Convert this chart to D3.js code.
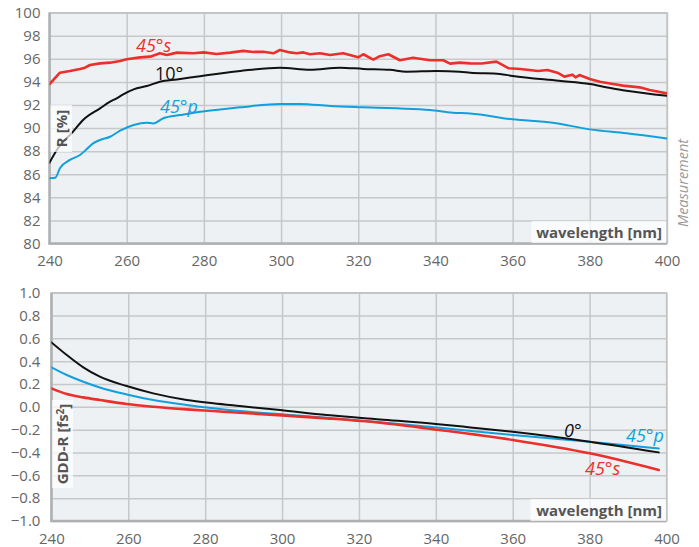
<!DOCTYPE html>
<html><head><meta charset="utf-8">
<script src="https://cdn.jsdelivr.net/npm/d3@7"></script>
<style>
html,body{margin:0;padding:0;background:#fff;}
svg{display:block;font-family:"Open Sans",sans-serif;}
</style></head>
<body>
<svg id="c" width="699" height="547"></svg>
<script>
// ---------- DATA ----------
const xTicks = [240,260,280,300,320,340,360,380,400];
const rTicks = [80,82,84,86,88,90,92,94,96,98,100];
const gddTicks = [-1.0,-0.8,-0.6,-0.4,-0.2,0.0,0.2,0.4,0.6,0.8,1.0];

// Reflectance, 45°s
const r45sWl = [240,241,242.7,245.3,247.9,249.2,250.5,253.1,255.7,258.3,260,263.5,266.1,268.6,270.4,273,277.3,279.9,283.3,286.8,290.2,292.8,295.4,298,299.7,302.3,304,305.8,307.5,310.1,312.7,316.1,320,321.3,323.9,325.6,327.8,330.8,334.2,338.6,342,343.8,346.3,349,352,355.8,359,362,366.6,369,371.6,373.4,375.5,376.3,377.3,380,382.6,386,388.6,392.9,395.5,400];
const r45sVal = [93.82,94.17,94.8,94.95,95.12,95.24,95.47,95.61,95.67,95.82,95.96,96.13,96.19,96.48,96.33,96.54,96.48,96.56,96.42,96.54,96.69,96.6,96.62,96.48,96.77,96.56,96.48,96.56,96.4,96.48,96.33,96.48,96.13,96.4,95.94,96.23,96.4,95.88,96.1,95.88,95.88,95.59,95.67,95.61,95.6,95.76,95.18,95.12,94.95,95.03,94.8,94.46,94.63,94.4,94.6,94.25,94.02,93.82,93.68,93.53,93.3,93.01];

// Reflectance, 10°
const r10Wl = [240,241.9,246.1,248.7,253.1,255.7,257.4,259.1,261.8,265.2,268.6,273,279,284.2,289.4,299.7,307.5,315.3,321.3,328.2,332.5,340.3,346.3,349,356.7,360,372,380,385,389.5,400];
const r10Val = [87.0,88.1,89.69,90.7,91.71,92.29,92.58,92.93,93.36,93.65,94.02,94.22,94.5,94.74,94.95,95.24,95.05,95.24,95.13,95.05,94.89,94.95,94.89,94.8,94.69,94.52,94.1,93.82,93.5,93.24,92.8];

// Reflectance, 45°p
const r45pWl = [240,241.5,242.7,245.3,247.9,249.6,251.3,253.1,255.7,258.3,261.8,265.2,266.9,269.5,273.9,279,284.2,289.4,299.7,305,312.7,321.3,330,338.6,344.5,349,360,370.4,380,389.5,400];
const r45pVal = [85.65,85.7,86.52,87.24,87.67,88.16,88.68,88.97,89.25,89.78,90.27,90.47,90.4,90.85,91.13,91.42,91.62,91.8,92.09,92.09,91.91,91.8,91.71,91.57,91.33,91.27,90.76,90.47,89.89,89.55,89.1];

// GDD on reflection (fs²)
const g0Wl = [240,244,248.3,252.6,259.6,266.5,275.2,282.1,289,299.5,311.6,325.5,340,349,360,380,398];
const g0Val = [0.565,0.454,0.346,0.264,0.182,0.118,0.06,0.031,0.007,-0.028,-0.072,-0.11,-0.15,-0.18,-0.218,-0.305,-0.399];
const g45pWl = [240,244,248.3,252.6,259.6,266.5,275.2,282.1,289,300,311.6,325.5,341,360,380,398];
const g45pVal = [0.346,0.279,0.22,0.17,0.109,0.06,0.016,-0.013,-0.037,-0.065,-0.095,-0.135,-0.183,-0.247,-0.305,-0.364];
const g45sWl = [240,244,248.3,252.6,259.6,266.5,275.2,282.1,289,300,311.6,325.5,341,360,380,398];
const g45sVal = [0.162,0.112,0.083,0.06,0.025,0.001,-0.022,-0.037,-0.052,-0.075,-0.101,-0.139,-0.203,-0.29,-0.407,-0.553];

// ---------- DRAW ----------
const svg = d3.select("#c");
const RED = "#ec2f2a", BLACK = "#111111", BLUE = "#12a0dd";
const GRID = "#c6c8ca", BG = "#eef1f4", TICK = "#666", LBL = "#555";

function panel(opt){
  const x = d3.scaleLinear().domain([240,400]).range(opt.xr);
  const y = d3.scaleLinear().domain(opt.yd).range(opt.yr);
  const g = svg.append("g");
  const [x0,x1] = opt.xr, [y0,y1] = [opt.yr[1], opt.yr[0]];
  g.append("rect").attr("x",x0).attr("y",y0).attr("width",x1-x0).attr("height",y1-y0).attr("fill",BG);
  g.append("g").attr("transform",`translate(0,${y1})`)
    .call(d3.axisBottom(x).tickValues(xTicks).tickSize(-(y1-y0)).tickFormat(""))
    .call(s=>{s.select(".domain").remove(); s.selectAll("line").attr("stroke",GRID).attr("stroke-width",1.5);});
  g.append("g").attr("transform",`translate(${x0},0)`)
    .call(d3.axisLeft(y).tickValues(opt.ticks).tickSize(-(x1-x0)).tickFormat(""))
    .call(s=>{s.select(".domain").remove(); s.selectAll("line").attr("stroke",GRID).attr("stroke-width",1.5);});
  g.append("rect").attr("x",x0).attr("y",y0).attr("width",x1-x0).attr("height",y1-y0)
    .attr("fill","none").attr("stroke","#c0c2c4").attr("stroke-width",1.2);
  g.append("line").attr("x1",x0).attr("x2",x0).attr("y1",y0).attr("y2",y1+1).attr("stroke","#aeb0b2").attr("stroke-width",2.5);
  g.append("line").attr("x1",x0-1).attr("x2",x1).attr("y1",y1).attr("y2",y1).attr("stroke","#aeb0b2").attr("stroke-width",2.5);
  g.append("g").attr("transform",`translate(0,${y1})`)
    .call(d3.axisBottom(x).tickValues(xTicks).tickSize(0).tickPadding(opt.xPad).tickFormat(d3.format("d")))
    .call(s=>{s.select(".domain").remove(); s.selectAll("text").attr("fill",TICK).style("font-size","15px").style("font-family","Open Sans");});
  g.append("g").attr("transform",`translate(${x0},0)`)
    .call(d3.axisLeft(y).tickValues(opt.ticks).tickSize(0).tickPadding(opt.yPad).tickFormat(opt.fmt))
    .call(s=>{s.select(".domain").remove(); s.selectAll("text").attr("fill",TICK).style("font-size","15px").style("font-family","Open Sans");});
  const cid = "clip"+opt.id;
  svg.append("clipPath").attr("id",cid).append("rect").attr("x",x0).attr("y",y0).attr("width",x1-x0).attr("height",y1-y0);
  const lines = g.append("g").attr("clip-path",`url(#${cid})`);
  opt.series.forEach(s=>{
    const pts = s.wl.map((w,i)=>[w,s.v[i]]);
    lines.append("path").datum(pts)
      .attr("fill","none").attr("stroke",s.c).attr("stroke-width",s.w)
      .attr("stroke-linejoin","round").attr("stroke-linecap","round")
      .attr("d", d3.line().x(d=>x(d[0])).y(d=>y(d[1])).curve(s.curve));
  });
  const yb = opt.yBox;
  g.append("rect").attr("x",yb[0]).attr("y",yb[1]).attr("width",yb[2]).attr("height",yb[3]).attr("fill","#fff").attr("opacity",0.72);
  const yt = g.append("text").attr("transform",`translate(${yb[0]+yb[2]/2+5.5},${yb[1]+yb[3]/2}) rotate(-90)`)
    .attr("text-anchor","middle").attr("fill",LBL).style("font-size","15px").style("font-weight","700");
  opt.yLabel(yt);
  const xb = opt.xBox;
  g.append("rect").attr("x",xb[0]).attr("y",xb[1]).attr("width",xb[2]).attr("height",xb[3]).attr("fill","#fff").attr("opacity",0.72);
  g.append("text").attr("x",xb[0]+xb[2]-4).attr("y",xb[1]+16.5).attr("text-anchor","end")
    .attr("fill",LBL).style("font-size","15px").style("font-weight","700").text("wavelength [nm]");
  opt.labels.forEach(l=>{
    g.append("text").attr("x",l.x).attr("y",l.y).attr("fill",l.c).style("font-size","18px")
      .style("font-style",l.it ? "italic" : "normal").text(l.t);
  });
  return {x,y};
}

panel({
  id:"top", xr:[49.5,667], yd:[80,100], yr:[243.5,12.7], ticks:rTicks, fmt:d3.format("d"),
  xPad:12, yPad:9,
  series:[
    {wl:r45pWl, v:r45pVal, c:BLUE, w:2, curve:d3.curveMonotoneX},
    {wl:r10Wl, v:r10Val, c:BLACK, w:2, curve:d3.curveMonotoneX},
    {wl:r45sWl, v:r45sVal, c:RED, w:2.6, curve:d3.curveLinear}
  ],
  yBox:[50.5,105,21.5,47],
  yLabel: t=>t.text("R [%]"),
  xBox:[531.5,221,134.5,22],
  labels:[
    {x:136,y:51.5,t:"45°s",c:RED,it:true},
    {x:155,y:80,t:"10°",c:BLACK,it:false},
    {x:160,y:112.5,t:"45°p",c:BLUE,it:true}
  ]
});

panel({
  id:"bot", xr:[51.4,666.5], yd:[-1,1], yr:[521,292.7], ticks:gddTicks, fmt:d3.format(".1f"),
  xPad:12, yPad:11,
  series:[
    {wl:g45pWl, v:g45pVal, c:BLUE, w:2, curve:d3.curveMonotoneX},
    {wl:g0Wl, v:g0Val, c:BLACK, w:2, curve:d3.curveMonotoneX},
    {wl:g45sWl, v:g45sVal, c:RED, w:2.6, curve:d3.curveMonotoneX}
  ],
  yBox:[52,400,21,88],
  yLabel: t=>{ t.append("tspan").text("GDD-R [fs"); t.append("tspan").attr("dy","-0.45em").style("font-size","10px").text("2"); t.append("tspan").attr("dy","0.45em").text("]"); },
  xBox:[530.5,499,135.5,22],
  labels:[
    {x:564,y:437,t:"0°",c:BLACK,it:true},
    {x:626,y:441.5,t:"45°p",c:BLUE,it:true},
    {x:585,y:475,t:"45°s",c:RED,it:true}
  ]
});

svg.append("text").attr("transform","translate(688,227) rotate(-90)")
  .attr("fill","#9a9a9a").style("font-size","14.5px").style("font-style","italic").text("Measurement");
</script>
</body></html>
